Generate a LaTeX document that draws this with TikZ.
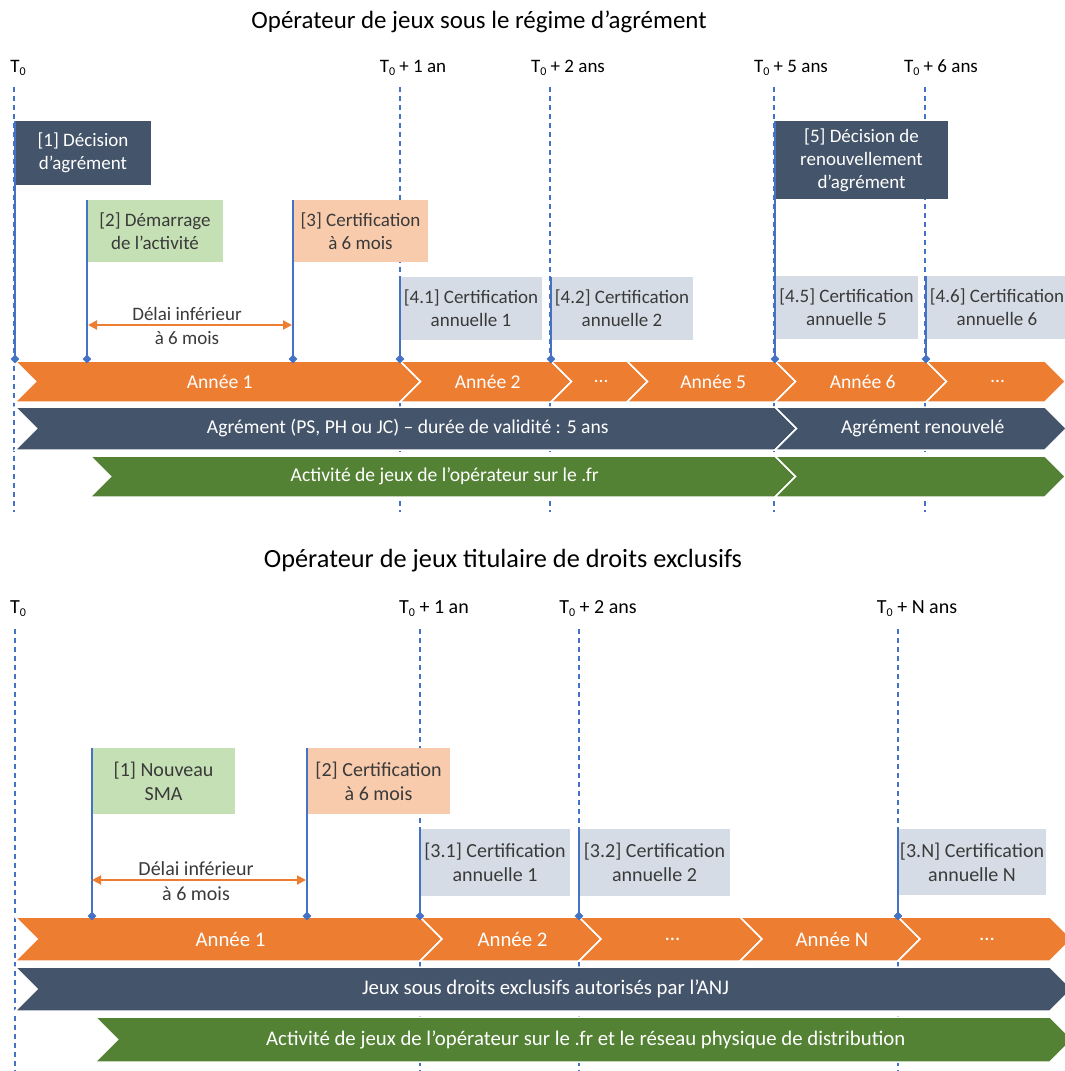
\documentclass[tikz,border=0pt]{standalone}
\usepackage{fontspec}
\setmainfont{Carlito}
\usetikzlibrary{arrows.meta,shapes.geometric}
\definecolor{orng}{HTML}{ED7D31}
\definecolor{slate}{HTML}{44546A}
\definecolor{grn}{HTML}{548235}
\definecolor{lgrn}{HTML}{C5E0B4}
\definecolor{peach}{HTML}{F8CBAD}
\definecolor{lgrey}{HTML}{D6DCE5}
\definecolor{bl}{HTML}{4472C4}
\definecolor{txt}{HTML}{3A3A3A}

\newcommand\Tz{T\raisebox{-3pt}{\fontsize{12}{12}\selectfont 0}}

\tikzset{
 guide/.style={bl, line width=1.3pt, dash pattern=on 5pt off 4pt},
 pole/.style={bl, line width=2.2pt},
 evbox/.style={anchor=north west, inner sep=0pt, outer sep=0pt, align=center, font=\fontsize{19}{23}\selectfont},
 darkbox/.style={evbox, fill=slate, text=white},
 greenbox/.style={evbox, fill=lgrn, text=txt},
 peachbox/.style={evbox, fill=peach, text=txt},
 greybox/.style={evbox, fill=lgrey, text=txt},
 bandtext/.style={text=white, inner sep=0pt, font=\fontsize{19.6}{23}\selectfont},
 diam/.style={diamond, fill=bl, inner sep=0pt, minimum size=9pt},
 delay/.style={orng, line width=2pt, {Triangle[length=9pt,width=9pt]}-{Triangle[length=9pt,width=9pt]}},
 delaytext/.style={text=txt, align=center, font=\fontsize{19}{24}\selectfont},
 tlabel/.style={text=black, inner sep=0pt, font=\fontsize{19}{23}\selectfont},
 titletext/.style={text=black, inner sep=0pt, font=\fontsize{24.9}{28}\selectfont}
}

% #1 xa, #2 xb, #3 ytop, #4 ybot, #5 colour, #6 node name, #7 text
\newcommand\chev[7]{%
  \pgfmathsetmacro\chmid{(#3+#4)/2}%
  \pgfmathsetmacro\chd{(#4-#3)/2}%
  \fill[#5, draw=white, line width=1.5pt, line join=miter] (#1,#3) -- (#2,#3) -- ({#2+\chd},\chmid) -- (#2,#4) -- (#1,#4) -- ({#1+\chd},\chmid) -- cycle;
  \node[bandtext] (#6) at ({(#1+\chd+#2)/2+2},\chmid) {#7};
}

\begin{document}
\begin{tikzpicture}[x=1pt,y=-1pt]
\clip (0,0) rectangle (1065,1071);
\fill[white] (0,0) rectangle (1065,1071);

%================ TOP =================
\node[titletext] (title1) at (479,22) {Opérateur de jeux sous le régime d’agrément};

\node[tlabel] (la0) at (18,68) {\Tz};
\node[tlabel] (la1) at (413,68) {\Tz{} + 1 an};
\node[tlabel] (la2) at (568,68) {\Tz{} + 2 ans};
\node[tlabel] (la5) at (791,68) {\Tz{} + 5 ans};
\node[tlabel] (la6) at (941,68) {\Tz{} + 6 ans};

\foreach \n/\x in {a/14, b/400, c/550, d/774, e/925}{
  \coordinate (gt\n) at (\x,87);
  \coordinate (gb\n) at (\x,512);
  \draw[guide] (gt\n) -- (gb\n);
}

\node[darkbox, minimum width=136pt, minimum height=64pt] (ba1) at (15,121) {[1] Décision\\d’agrément};
\node[greenbox, minimum width=136pt, minimum height=62pt] (ba2) at (87,200) {[2] Démarrage\\de l’activité};
\node[peachbox, minimum width=135pt, minimum height=62pt] (ba3) at (293,200) {[3] Certification\\à 6 mois};
\node[greybox, minimum width=142pt, minimum height=63pt] (ba41) at (400,277) {[4.1] Certification\\annuelle 1};
\node[greybox, minimum width=142pt, minimum height=63pt] (ba42) at (551,277) {[4.2] Certification\\annuelle 2};
\node[darkbox, minimum width=173pt, minimum height=78pt] (ba5) at (775,121) {[5] Décision de\\renouvellement\\d’agrément};
\node[greybox, minimum width=143pt, minimum height=63pt] (ba45) at (775,276) {[4.5] Certification\\annuelle 5};
\node[greybox, minimum width=142pt, minimum height=63pt] (ba46) at (926,276) {[4.6] Certification\\annuelle 6};

\coordinate (pa1) at (15,359);
\coordinate (pa2) at (87,359);
\coordinate (pa3) at (293,359);
\coordinate (pa41) at (400,359);
\coordinate (pa42) at (551,359);
\coordinate (pa5) at (775,359);
\coordinate (pa46) at (926,359);
\draw[pole] (ba1.north west) -- (pa1);
\draw[pole] (ba2.north west) -- (pa2);
\draw[pole] (ba3.north west) -- (pa3);
\draw[pole] (ba41.north west) -- (pa41);
\draw[pole] (ba42.north west) -- (pa42);
\draw[pole] (ba5.north west) -- (pa5);
\draw[pole] (ba46.north west) -- (pa46);

\chev{15}{400}{361}{402}{orng}{oa1}{Année 1}
\chev{400}{551}{361}{402}{orng}{oa2}{Année 2}
\chev{551}{627}{361}{402}{orng}{oa3}{…}
\chev{627}{775}{361}{402}{orng}{oa4}{Année 5}
\chev{775}{926}{361}{402}{orng}{oa5}{Année 6}
\chev{926}{1045}{361}{402}{orng}{oa6}{…}

\chev{15}{775}{407}{450}{slate}{sa1}{Agrément (PS, PH ou JC) – durée de validité : 5 ans}
\chev{775}{1045}{407}{450}{slate}{sa2}{Agrément renouvelé}

\chev{90}{775}{456}{497}{grn}{ga1}{Activité de jeux de l’opérateur sur le .fr}
\chev{775}{1045}{456}{497}{grn}{ga2}{}

\foreach \p in {pa1,pa2,pa3,pa41,pa42,pa5,pa46}{\node[diam] at (\p) {};}

\coordinate (da1) at (88,325);
\coordinate (da2) at (292,325);
\draw[delay] (da1) -- (da2);
\node[delaytext] (dta) at (187,326) {Délai inférieur\\à 6 mois};

%================ BOTTOM =================
\begin{scope}[
  evbox/.append style={font=\fontsize{20}{24}\selectfont},
  bandtext/.append style={font=\fontsize{20.8}{24}\selectfont},
  delaytext/.append style={font=\fontsize{20}{25}\selectfont},
  tlabel/.append style={font=\fontsize{20}{24}\selectfont},
  titletext/.append style={font=\fontsize{26.3}{30}\selectfont}]

\node[titletext] (title2) at (503,561) {Opérateur de jeux titulaire de droits exclusifs};

\node[tlabel] (lb0) at (18,609) {\Tz};
\node[tlabel] (lb1) at (434,609) {\Tz{} + 1 an};
\node[tlabel] (lb2) at (598,609) {\Tz{} + 2 ans};
\node[tlabel] (lbn) at (917,609) {\Tz{} + N ans};

\foreach \n/\x in {a/15, b/420, c/579, d/898}{
  \coordinate (ht\n) at (\x,629);
  \coordinate (hb\n) at (\x,1071);
  \draw[guide] (ht\n) -- (hb\n);
}

\node[greenbox, minimum width=143pt, minimum height=66pt] (bb1) at (92,748) {[1] Nouveau\\SMA};
\node[peachbox, minimum width=143pt, minimum height=66pt] (bb2) at (307,748) {[2] Certification\\à 6 mois};
\node[greybox, minimum width=150pt, minimum height=67pt] (bb31) at (420,829) {[3.1] Certification\\annuelle 1};
\node[greybox, minimum width=151pt, minimum height=67pt] (bb32) at (579,829) {[3.2] Certification\\annuelle 2};
\node[greybox, minimum width=148pt, minimum height=66pt] (bb3n) at (898,829) {[3.N] Certification\\annuelle N};

\coordinate (pb1) at (92,916);
\coordinate (pb2) at (307,916);
\coordinate (pb31) at (420,916);
\coordinate (pb32) at (579,916);
\coordinate (pb3n) at (898,916);
\draw[pole] (bb1.north west) -- (pb1);
\draw[pole] (bb2.north west) -- (pb2);
\draw[pole] (bb31.north west) -- (pb31);
\draw[pole] (bb32.north west) -- (pb32);
\draw[pole] (bb3n.north west) -- (pb3n);

\chev{15}{420}{917}{961}{orng}{ob1}{Année 1}
\chev{420}{579}{917}{961}{orng}{ob2}{Année 2}
\chev{579}{740}{917}{961}{orng}{ob3}{…}
\chev{740}{898}{917}{961}{orng}{ob4}{Année N}
\chev{898}{1050}{917}{961}{orng}{ob5}{…}

\chev{15}{1050}{967}{1011}{slate}{sb1}{Jeux sous droits exclusifs autorisés par l’ANJ}
\chev{95}{1050}{1017}{1062}{grn}{gb1}{Activité de jeux de l’opérateur sur le .fr et le réseau physique de distribution}

\foreach \p in {pb1,pb2,pb31,pb32,pb3n}{\node[diam] at (\p) {};}

\coordinate (db1) at (92,880);
\coordinate (db2) at (306,880);
\draw[delay] (db1) -- (db2);
\node[delaytext] (dtb) at (196,881) {Délai inférieur\\à 6 mois};
\end{scope}

\end{tikzpicture}
\end{document}
